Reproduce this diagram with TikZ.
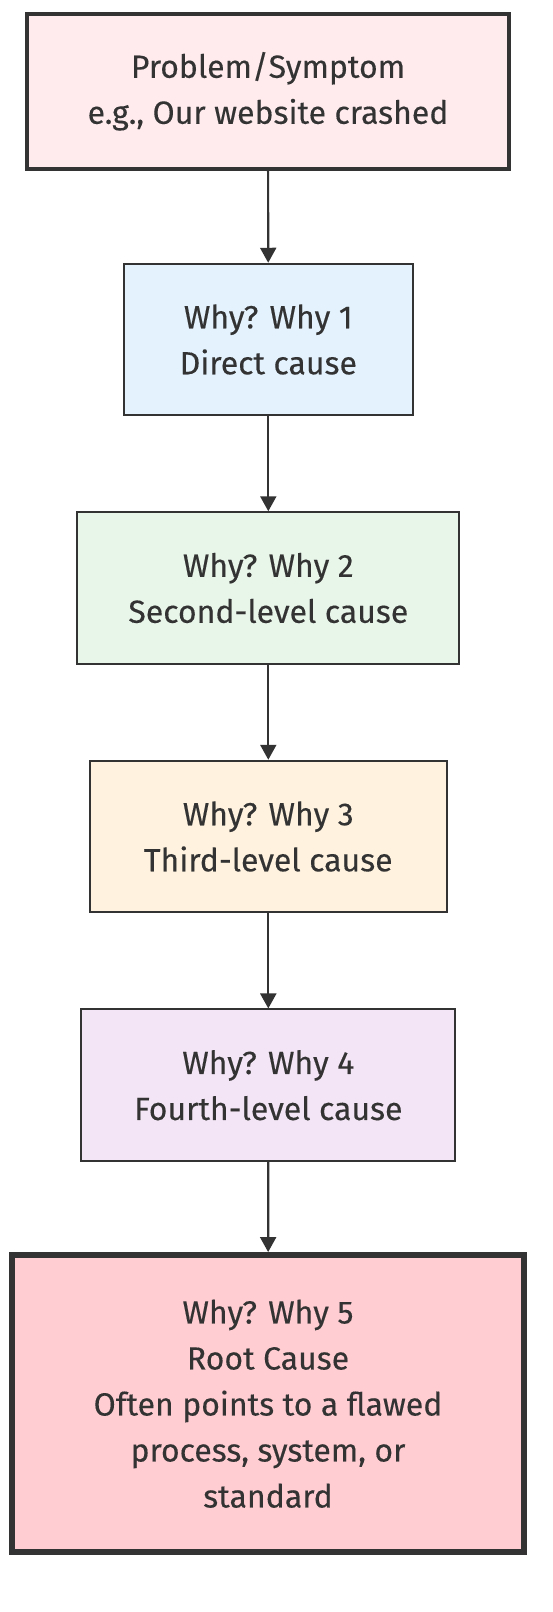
\documentclass[tikz,border=0pt]{standalone}
\usepackage{fontspec}
\setmainfont{Fira Sans}[FakeBold=0.25]
\usetikzlibrary{arrows.meta}
\definecolor{ink}{HTML}{333333}
\definecolor{fprob}{HTML}{FFEBEE}
\definecolor{fone}{HTML}{E3F2FD}
\definecolor{ftwo}{HTML}{E8F5E9}
\definecolor{fthree}{HTML}{FFF3E0}
\definecolor{ffour}{HTML}{F3E5F5}
\definecolor{ffive}{HTML}{FFCDD2}
\begin{document}
\begin{tikzpicture}[x=1pt,y=-1pt,
  box/.style={draw=ink, line width=2pt, text=ink, align=center, inner sep=0pt,
    font=\fontsize{32}{46}\selectfont, minimum height=151.5pt},
  thickbox/.style={box, line width=4pt},
  rootbox/.style={box, line width=6pt},
  conn/.style={draw=ink, line width=2.2pt, -{Triangle[length=15pt,width=16pt]}}]
\useasboundingbox (0,0) rectangle (552,1612);
\node[thickbox, fill=fprob, minimum width=481.4pt, minimum height=154.5pt] (p) at (268,91.25) {Problem/Symptom\\e.g., Our website crashed};
\node[box, fill=fone, minimum width=289.4pt] (w1) at (268.3,339.5) {Why? Why 1\\Direct cause};
\node[box, fill=ftwo, minimum width=382pt] (w2) at (268.3,588) {Why? Why 2\\Second-level cause};
\node[box, fill=fthree, minimum width=357.4pt] (w3) at (268.3,836.5) {Why? Why 3\\Third-level cause};
\node[box, fill=ffour, minimum width=374pt] (w4) at (268.3,1085.2) {Why? Why 4\\Fourth-level cause};
\node[rootbox, fill=ffive, minimum width=511.4pt, minimum height=297.3pt] (w5) at (268,1403.7) {Why? Why 5\\Root Cause\\Often points to a flawed\\process, system, or\\standard};
\draw[conn] (p) -- (w1);
\draw[conn] (w1) -- (w2);
\draw[conn] (w2) -- (w3);
\draw[conn] (w3) -- (w4);
\draw[conn] (w4) -- (w5);
\end{tikzpicture}
\end{document}
